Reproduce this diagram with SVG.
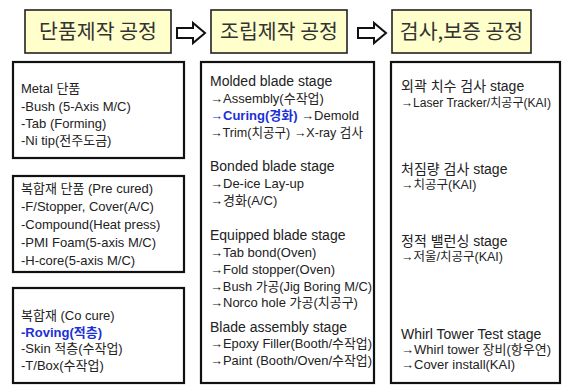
<svg xmlns="http://www.w3.org/2000/svg" width="563" height="385" viewBox="0 0 563 385">
<style>
.hdr{fill:#ffffcc;stroke:#222;stroke-width:1.6}
.box{fill:#fff;stroke:#111;stroke-width:2.2}
.arr{fill:#fff;stroke:#111;stroke-width:2;stroke-linejoin:miter}
text{font-family:"Liberation Sans","Noto Sans CJK KR",sans-serif;fill:#222}
.h{font-family:"Noto Sans CJK KR",sans-serif;font-size:20.5px;text-anchor:middle;fill:#333}
.t{font-size:13px}
.g{font-size:14px}
.s{font-size:12.5px}
.blue{fill:#1c2fd6;font-weight:bold}
</style>
<rect width="563" height="385" fill="#fff"/>
<g id="stage1-header"><rect class="hdr" x="25" y="10" width="146" height="43"/><text class="h" x="98" y="39">단품제작 공정</text></g>
<g id="stage2-header"><rect class="hdr" x="211" y="10" width="136" height="43"/><text class="h" x="279" y="39">조립제작 공정</text></g>
<g id="stage3-header"><rect class="hdr" x="392" y="10" width="139" height="43"/><text class="h" x="461.5" y="39">검사,보증 공정</text></g>
<g id="connectors">
<polygon class="arr" points="177,28 193,28 193,23 205,33 193,43 193,38 177,38"/>
<polygon class="arr" points="358,28 374,28 374,23 386,33 374,43 374,38 358,38"/>
</g>
<g id="metal">
<rect class="box" x="13" y="62" width="171" height="96"/>
<text class="t" x="21" y="93">Metal 단품</text>
<text class="t" x="21" y="111">-Bush (5-Axis M/C)</text>
<text class="t" x="21" y="128">-Tab (Forming)</text>
<text class="t" x="21" y="145">-Ni tip(전주도금)</text>
</g>
<g id="precured">
<rect class="box" x="13" y="176" width="171" height="96"/>
<text class="t" x="21" y="193">복합재 단품 (Pre cured)</text>
<text class="t" x="21" y="211">-F/Stopper, Cover(A/C)</text>
<text class="t" x="21" y="229">-Compound(Heat press)</text>
<text class="t" x="21" y="247">-PMI Foam(5-axis M/C)</text>
<text class="t" x="21" y="265">-H-core(5-axis M/C)</text>
</g>
<g id="cocure">
<rect class="box" x="13" y="288" width="171" height="95"/>
<text class="t" x="21" y="320">복합재 (Co cure)</text>
<text class="t blue" x="21" y="337">-Roving(적층)</text>
<text class="t" x="21" y="353">-Skin 적층(수작업)</text>
<text class="t" x="21" y="370">-T/Box(수작업)</text>
</g>
<g id="assembly">
<rect class="box" x="201" y="62" width="173" height="321"/>
<text class="g" x="210" y="86">Molded blade stage</text>
<text class="t" x="210" y="103">→Assembly(수작업)</text>
<text class="t" x="210" y="120"><tspan class="blue">→Curing(경화)</tspan> →Demold</text>
<text class="t" x="210" y="137" textLength="153" lengthAdjust="spacingAndGlyphs">→Trim(치공구) →X-ray 검사</text>
<text class="g" x="210" y="171">Bonded blade stage</text>
<text class="t" x="210" y="188">→De-ice Lay-up</text>
<text class="t" x="210" y="205">→경화(A/C)</text>
<text class="g" x="210" y="240">Equipped blade stage</text>
<text class="t" x="210" y="257">→Tab bond(Oven)</text>
<text class="t" x="210" y="274">→Fold stopper(Oven)</text>
<text class="t" x="210" y="291" textLength="162" lengthAdjust="spacingAndGlyphs">→Bush 가공(Jig Boring M/C)</text>
<text class="t" x="210" y="307">→Norco hole 가공(치공구)</text>
<text class="g" x="210" y="332">Blade assembly stage</text>
<text class="t" x="210" y="348" textLength="162" lengthAdjust="spacingAndGlyphs">→Epoxy Filler(Booth/수작업)</text>
<text class="t" x="210" y="365" textLength="162" lengthAdjust="spacingAndGlyphs">→Paint (Booth/Oven/수작업)</text>
</g>
<g id="inspection">
<rect class="box" x="391" y="62" width="169" height="321"/>
<text class="g" x="401" y="91">외곽 치수 검사 stage</text>
<text class="s" x="401" y="107" textLength="150" lengthAdjust="spacingAndGlyphs">→Laser Tracker/치공구(KAI)</text>
<text class="g" x="401" y="174">처짐량 검사 stage</text>
<text class="s" x="401" y="189">→치공구(KAI)</text>
<text class="g" x="401" y="246">정적 밸런싱 stage</text>
<text class="s" x="401" y="261">→저울/치공구(KAI)</text>
<text class="g" x="401" y="339">Whirl Tower Test stage</text>
<text class="t" x="401" y="354">→Whirl tower 장비(항우연)</text>
<text class="t" x="401" y="369">→Cover install(KAI)</text>
</g>
</svg>
